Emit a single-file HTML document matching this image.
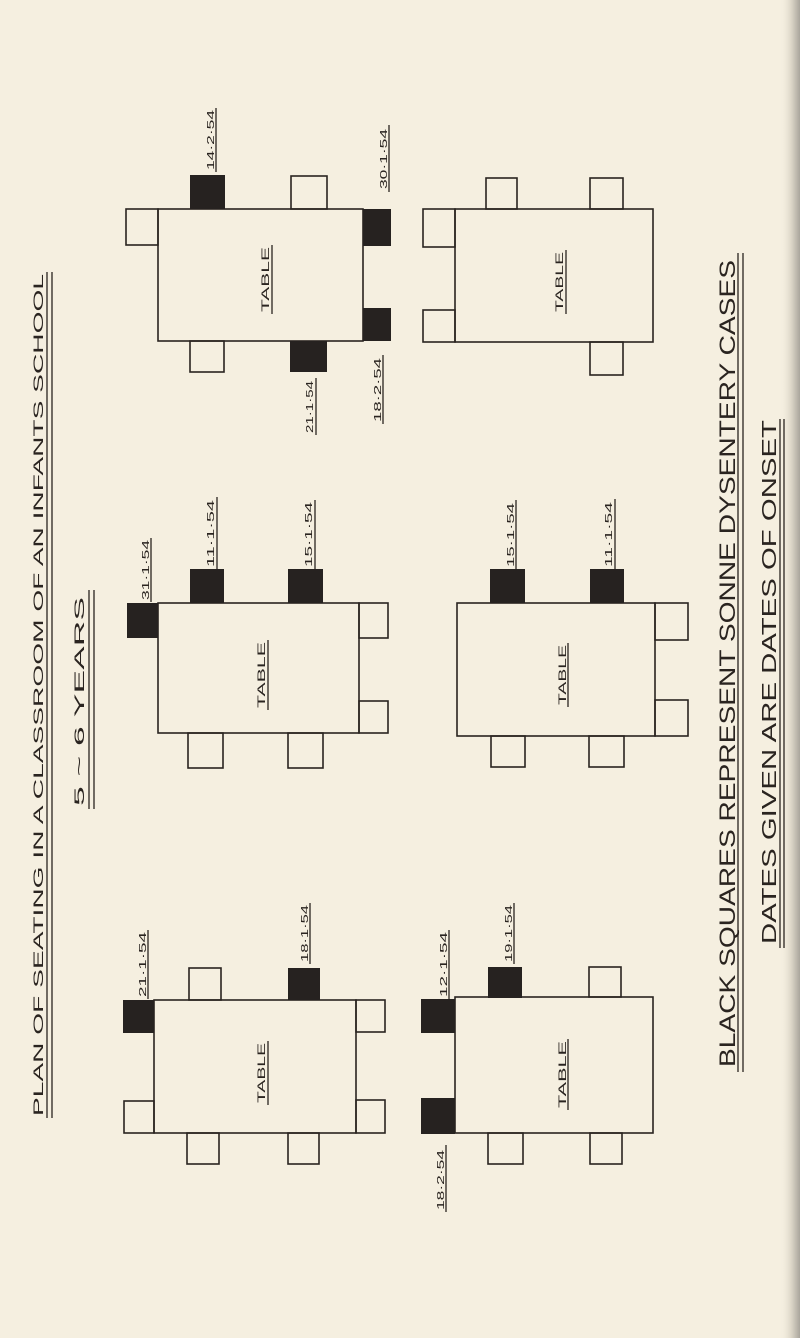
<!DOCTYPE html>
<html><head><meta charset="utf-8"><style>
html,body{margin:0;padding:0;background:#f5efe0;}
svg{display:block}
text{font-family:"Liberation Sans",sans-serif;fill:#2a2420}
</style></head><body>
<svg width="800" height="1338" viewBox="0 0 800 1338" xmlns="http://www.w3.org/2000/svg">
<defs>
<linearGradient id="edge" x1="0" x2="1" y1="0" y2="0">
<stop offset="0" stop-color="#f5efe0" stop-opacity="0"/>
<stop offset="0.6" stop-color="#d8d2c4"/>
<stop offset="1" stop-color="#a9a59c"/>
</linearGradient>
</defs>
<rect width="800" height="1338" fill="#f5efe0"/>
<rect x="780" y="0" width="20" height="1338" fill="url(#edge)"/>

<g fill="none" stroke="#2a2420" stroke-width="1.6">
<!-- T1 -->
<rect x="158" y="209" width="205" height="132"/>
<rect x="126" y="209" width="32" height="36"/>
<rect x="291" y="176" width="36" height="33"/>
<rect x="190" y="341" width="34" height="31"/>
<!-- T2 -->
<rect x="455" y="209" width="198" height="133"/>
<rect x="423" y="209" width="32" height="38"/>
<rect x="423" y="310" width="32" height="32"/>
<rect x="486" y="178" width="31" height="31"/>
<rect x="590" y="178" width="33" height="31"/>
<rect x="590" y="342" width="33" height="33"/>
<!-- T3 -->
<rect x="158" y="603" width="201" height="130"/>
<rect x="359" y="603" width="29" height="35"/>
<rect x="359" y="701" width="29" height="32"/>
<rect x="188" y="733" width="35" height="35"/>
<rect x="288" y="733" width="35" height="35"/>
<!-- T4 -->
<rect x="457" y="603" width="198" height="133"/>
<rect x="655" y="603" width="33" height="37"/>
<rect x="655" y="700" width="33" height="36"/>
<rect x="491" y="736" width="34" height="31"/>
<rect x="589" y="736" width="35" height="31"/>
<!-- T5 -->
<rect x="154" y="1000" width="202" height="133"/>
<rect x="124" y="1101" width="30" height="32"/>
<rect x="189" y="968" width="32" height="32"/>
<rect x="356" y="1000" width="29" height="32"/>
<rect x="356" y="1100" width="29" height="33"/>
<rect x="187" y="1133" width="32" height="31"/>
<rect x="288" y="1133" width="31" height="31"/>
<!-- T6 -->
<rect x="455" y="997" width="198" height="136"/>
<rect x="589" y="967" width="32" height="30"/>
<rect x="488" y="1133" width="35" height="31"/>
<rect x="590" y="1133" width="32" height="31"/>
</g>

<g fill="#262220">
<rect x="190" y="175" width="35" height="34"/>
<rect x="363" y="209" width="28" height="37"/>
<rect x="363" y="308" width="28" height="33"/>
<rect x="290" y="341" width="37" height="31"/>
<rect x="127" y="603" width="31" height="35"/>
<rect x="190" y="569" width="34" height="34"/>
<rect x="288" y="569" width="35" height="34"/>
<rect x="490" y="569" width="35" height="34"/>
<rect x="590" y="569" width="34" height="34"/>
<rect x="123" y="1000" width="31" height="33"/>
<rect x="288" y="968" width="32" height="32"/>
<rect x="421" y="999" width="34" height="34"/>
<rect x="421" y="1098" width="34" height="36"/>
<rect x="488" y="967" width="34" height="31"/>
</g>

<!-- leader/underline lines -->
<g stroke="#2a2420" stroke-width="1.3">
<line x1="216" y1="108" x2="216" y2="172"/>
<line x1="389" y1="125" x2="389" y2="192"/>
<line x1="316" y1="378" x2="316" y2="435"/>
<line x1="383" y1="355" x2="383" y2="424"/>
<line x1="151" y1="538" x2="151" y2="602"/>
<line x1="217" y1="497" x2="217" y2="569"/>
<line x1="315" y1="500" x2="315" y2="569"/>
<line x1="516" y1="500" x2="516" y2="569"/>
<line x1="615" y1="499" x2="615" y2="569"/>
<line x1="148" y1="930" x2="148" y2="999"/>
<line x1="310" y1="903" x2="310" y2="964"/>
<line x1="449" y1="930" x2="449" y2="999"/>
<line x1="514" y1="903" x2="514" y2="964"/>
<line x1="446" y1="1145" x2="446" y2="1212"/>
<line x1="272" y1="245" x2="272" y2="314"/>
<line x1="566" y1="250" x2="566" y2="314"/>
<line x1="268" y1="640" x2="268" y2="710"/>
<line x1="568" y1="643" x2="568" y2="707"/>
<line x1="268" y1="1041" x2="268" y2="1105"/>
<line x1="568" y1="1039" x2="568" y2="1110"/>
<!-- title underlines -->
<line x1="47" y1="272" x2="47" y2="1118"/>
<line x1="52" y1="272" x2="52" y2="1118"/>
<line x1="89" y1="590" x2="89" y2="809"/>
<line x1="94" y1="590" x2="94" y2="809"/>
<line x1="738" y1="253" x2="738" y2="1072"/>
<line x1="743" y1="253" x2="743" y2="1072"/>
<line x1="780" y1="419" x2="780" y2="948"/>
<line x1="784" y1="419" x2="784" y2="948"/>
</g>

<!-- date labels -->
<g font-size="10">
<text transform="translate(214,170) rotate(-90)" textLength="60" lengthAdjust="spacingAndGlyphs">14·2·54</text>
<text transform="translate(387,189) rotate(-90)" textLength="60" lengthAdjust="spacingAndGlyphs">30·1·54</text>
<text transform="translate(313,433) rotate(-90)" textLength="52" lengthAdjust="spacingAndGlyphs">21·1·54</text>
<text transform="translate(381,422) rotate(-90)" textLength="64" lengthAdjust="spacingAndGlyphs">18·2·54</text>
<text transform="translate(149,600) rotate(-90)" textLength="60" lengthAdjust="spacingAndGlyphs">31·1·54</text>
<text transform="translate(214,567) rotate(-90)" textLength="67" lengthAdjust="spacingAndGlyphs">11·1·54</text>
<text transform="translate(312,567) rotate(-90)" textLength="65" lengthAdjust="spacingAndGlyphs">15·1·54</text>
<text transform="translate(514,567) rotate(-90)" textLength="64" lengthAdjust="spacingAndGlyphs">15·1·54</text>
<text transform="translate(612,567) rotate(-90)" textLength="65" lengthAdjust="spacingAndGlyphs">11·1·54</text>
<text transform="translate(146,997) rotate(-90)" textLength="65" lengthAdjust="spacingAndGlyphs">21·1·54</text>
<text transform="translate(308,962) rotate(-90)" textLength="57" lengthAdjust="spacingAndGlyphs">18·1·54</text>
<text transform="translate(447,997) rotate(-90)" textLength="65" lengthAdjust="spacingAndGlyphs">12·1·54</text>
<text transform="translate(512,962) rotate(-90)" textLength="57" lengthAdjust="spacingAndGlyphs">19·1·54</text>
<text transform="translate(444,1210) rotate(-90)" textLength="60" lengthAdjust="spacingAndGlyphs">18·2·54</text>
</g>
<g font-size="11">
<text transform="translate(269,312) rotate(-90)" textLength="65" lengthAdjust="spacingAndGlyphs">TABLE</text>
<text transform="translate(563,312) rotate(-90)" textLength="60" lengthAdjust="spacingAndGlyphs">TABLE</text>
<text transform="translate(265,708) rotate(-90)" textLength="66" lengthAdjust="spacingAndGlyphs">TABLE</text>
<text transform="translate(566,705) rotate(-90)" textLength="60" lengthAdjust="spacingAndGlyphs">TABLE</text>
<text transform="translate(265,1103) rotate(-90)" textLength="60" lengthAdjust="spacingAndGlyphs">TABLE</text>
<text transform="translate(566,1108) rotate(-90)" textLength="67" lengthAdjust="spacingAndGlyphs">TABLE</text>
</g>

<!-- titles -->
<text transform="translate(43,1116) rotate(-90)" font-size="14" textLength="842" lengthAdjust="spacingAndGlyphs">PLAN OF SEATING IN A CLASSROOM OF AN INFANTS SCHOOL</text>
<text transform="translate(84,806) rotate(-90)" font-size="14" textLength="209" lengthAdjust="spacingAndGlyphs">5 ~ 6 YEARS</text>
<text transform="translate(735,1067) rotate(-90)" font-size="22" textLength="807" lengthAdjust="spacingAndGlyphs">BLACK SQUARES REPRESENT SONNE DYSENTERY CASES</text>
<text transform="translate(776,944) rotate(-90)" font-size="20" textLength="524" lengthAdjust="spacingAndGlyphs">DATES GIVEN ARE DATES OF ONSET</text>
</svg>
</body></html>
